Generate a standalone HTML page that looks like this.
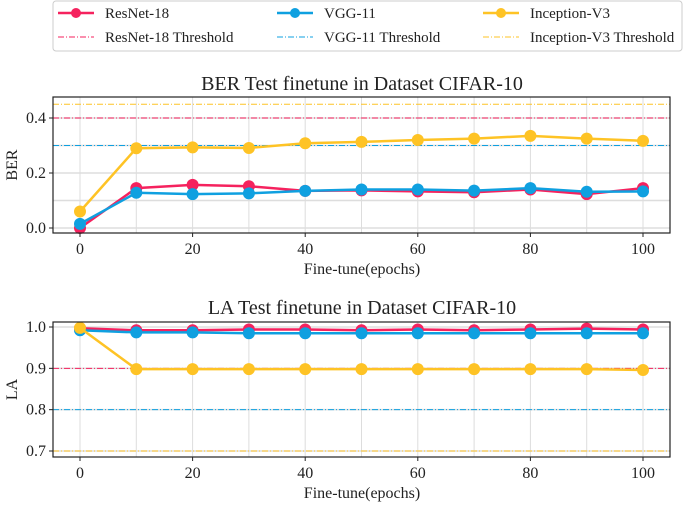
<!DOCTYPE html>
<html><head><meta charset="utf-8"><style>
body{margin:0;background:#fff;}
svg text{font-family:"Liberation Serif",serif;fill:#222;}
</style></head><body>
<svg id="c" width="685" height="504" xmlns="http://www.w3.org/2000/svg">
<g>
<rect x="53" y="1" width="629" height="50" fill="#fff" stroke="#ccc" rx="3"/>
</g>
</svg>
<script>
const epochs=[0,10,20,30,40,50,60,70,80,90,100];
const xTicks=[0,20,40,60,80,100];
const berResnet=[0,0.145,0.157,0.152,0.135,0.137,0.133,0.13,0.14,0.123,0.145];
const berVgg=[0.015,0.128,0.123,0.126,0.135,0.14,0.14,0.136,0.145,0.132,0.133];
const berIncep=[0.06,0.29,0.293,0.291,0.308,0.313,0.32,0.325,0.335,0.325,0.317];
const berThresh=[0.4,0.3,0.45];
const berTicks=[0.0,0.2,0.4];
const laResnet=[0.997,0.992,0.992,0.994,0.994,0.992,0.994,0.992,0.994,0.996,0.994];
const laVgg=[0.992,0.987,0.987,0.985,0.985,0.985,0.985,0.985,0.985,0.985,0.985];
const laIncep=[0.998,0.898,0.898,0.898,0.898,0.898,0.898,0.898,0.898,0.898,0.896];
const laThresh=[0.9,0.8,0.7];
const laTicks=[0.7,0.8,0.9,1.0];
const names=["ResNet-18","VGG-11","Inception-V3"];
const colors=["#f5225e","#0fa0e0","#fec325"];
const NS="http://www.w3.org/2000/svg";
const svg=document.getElementById('c');
function mk(t,a,p){const e=document.createElementNS(NS,t);for(const k in a)e.setAttribute(k,a[k]);(p||svg).appendChild(e);return e;}
// legend
const lx=[58,277,483];
for(let i=0;i<3;i++){
  const g=mk('g',{});
  
  
  mk('line',{x1:lx[i],x2:lx[i]+36,y1:13,y2:13,stroke:colors[i],'stroke-width':2.5},g);
  mk('circle',{cx:lx[i]+18,cy:13,r:5,fill:colors[i]},g);
  const t=mk('text',{x:lx[i]+47,y:18,'font-size':15},g);t.textContent=names[i];
  const g2=mk('g',{});
  
  
  mk('line',{x1:lx[i],x2:lx[i]+36,y1:37,y2:37,stroke:colors[i],'stroke-width':1,'stroke-dasharray':'6,2,1,2'},g2);
  const t2=mk('text',{x:lx[i]+47,y:42,'font-size':15},g2);t2.textContent=names[i]+' Threshold';
}
function panel(name,top,bot,vmin,vmax,yTop,yBot,ticks,grid,series,thresh,title,ylab,titleY,xlabY){
  const g=mk('g',{});
  
  
  const L=53,R=670;
  const sx=v=>80+(v/100)*(643-80);
  const sy=v=>yBot+(v-vmin)/(vmax-vmin)*(yTop-yBot);
  for(const e of epochs) mk('line',{x1:sx(e),x2:sx(e),y1:top,y2:bot,stroke:'#ddd','stroke-width':1},g);
  for(const v of grid) mk('line',{x1:L,x2:R,y1:sy(v),y2:sy(v),stroke:'#ddd','stroke-width':1.5},g);
  for(let i=0;i<3;i++){
    const l=mk('line',{x1:L,x2:R,y1:sy(thresh[i]),y2:sy(thresh[i]),stroke:colors[i],'stroke-width':1,'stroke-dasharray':'6,2,1,2'},g);
    
  }
  for(let i=0;i<3;i++){
    const d=series[i];
    const pl=mk('polyline',{points:d.map((v,j)=>sx(epochs[j])+','+sy(v)).join(' '),fill:'none',stroke:colors[i],'stroke-width':2.5},g);
    
    d.forEach((v,j)=>{const c=mk('circle',{cx:sx(epochs[j]),cy:sy(v),r:6,fill:colors[i]},g);
      });
  }
  mk('rect',{x:L,y:top,width:R-L,height:bot-top,fill:'none',stroke:'#222','stroke-width':1.2},g);
  for(const t of ticks){mk('line',{x1:L-4,x2:L,y1:sy(t),y2:sy(t),stroke:'#222'},g);
    const tx=mk('text',{x:L-7,y:sy(t)+5,'font-size':16,'text-anchor':'end'},g);tx.textContent=t.toFixed(1);}
  for(const t of xTicks){mk('line',{x1:sx(t),x2:sx(t),y1:bot,y2:bot+4,stroke:'#222'},g);
    const tx=mk('text',{x:sx(t),y:bot+21,'font-size':16,'text-anchor':'middle'},g);tx.textContent=t;}
  const tt=mk('text',{x:362,y:titleY,'font-size':20,'text-anchor':'middle'},g);tt.textContent=title;
  
  const xl=mk('text',{x:362,y:xlabY,'font-size':16,'text-anchor':'middle'},g);xl.textContent='Fine-tune(epochs)';
  
  const my=(top+bot)/2;
  const yl=mk('text',{x:17,y:my,'font-size':16,'text-anchor':'middle',transform:`rotate(-90 17 ${my})`},g);yl.textContent=ylab;
  
}
panel('ber-chart',97,233,0,0.4,118,228,berTicks,[0,0.1,0.2,0.3,0.4],[berResnet,berVgg,berIncep],berThresh,'BER Test finetune in Dataset CIFAR-10','BER',90,274);
panel('la-chart',322,457,0.7,1.0,327,451,laTicks,[0.7,0.8,0.9,1.0],[laResnet,laVgg,laIncep],laThresh,'LA Test finetune in Dataset CIFAR-10','LA',314,498);
</script>
</body></html>
